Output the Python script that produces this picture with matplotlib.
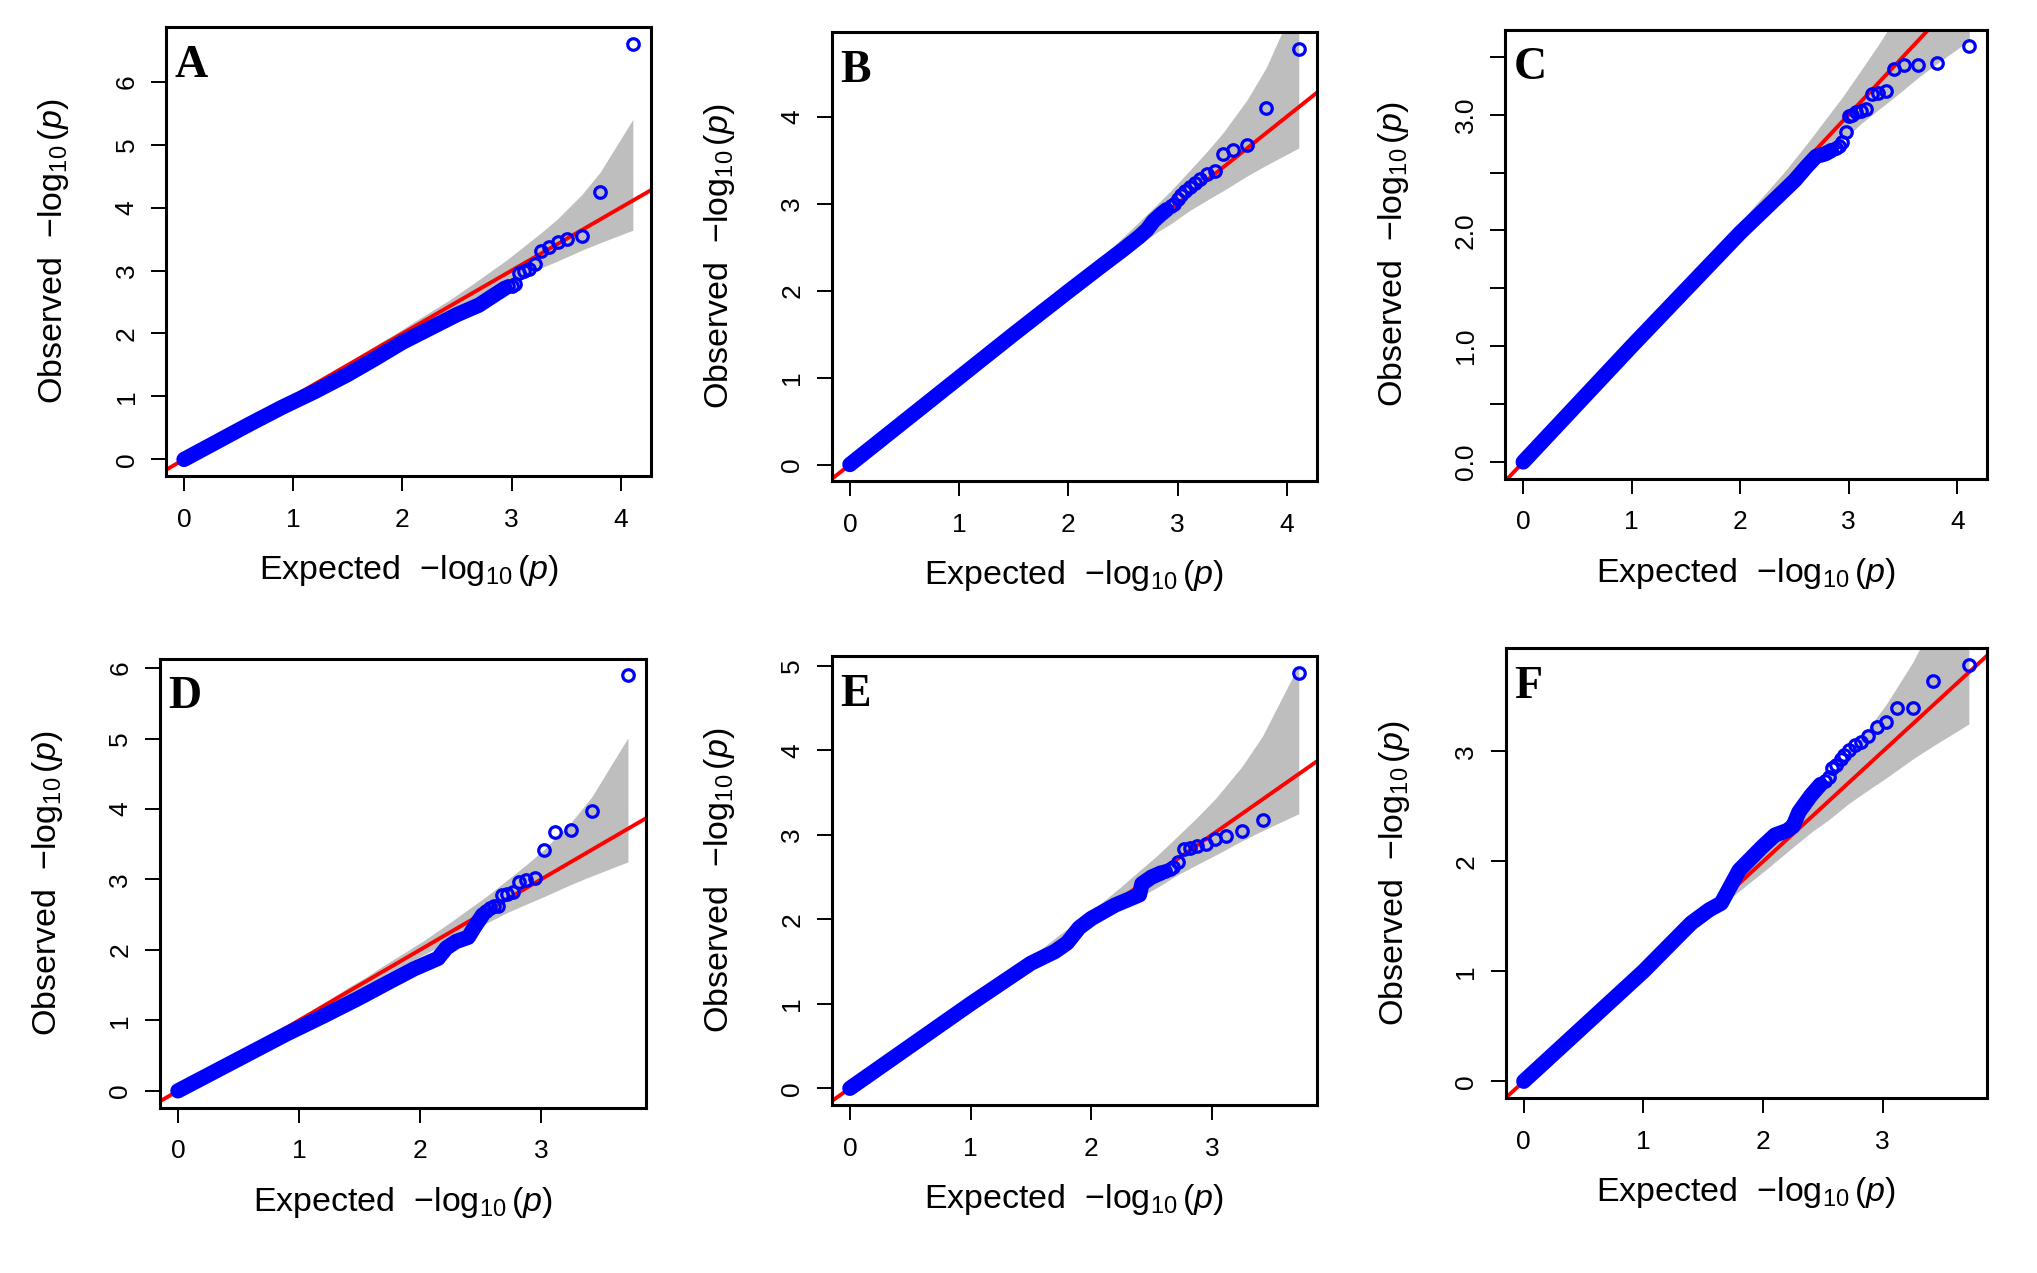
import matplotlib.pyplot as plt
import numpy as np

plt.rcParams['font.family'] = 'Liberation Sans'
plt.rcParams['mathtext.fontset'] = 'custom'
plt.rcParams['mathtext.rm'] = 'Liberation Sans'
plt.rcParams['mathtext.it'] = 'Liberation Sans:italic'

# expected -log10(p) of the top-ranked points (top row ~13000 tests, bottom row ~5300)
exp_tail_top = [4.11, 3.81, 3.64, 3.51, 3.42, 3.34, 3.27, 3.21, 3.16, 3.11, 3.07, 3.03, 3.00, 2.97, 2.94, 2.91, 2.88]
exp_tail_bottom = [3.72, 3.42, 3.25, 3.12, 3.03, 2.95, 2.88, 2.82, 2.77, 2.72, 2.68, 2.65, 2.61, 2.58, 2.55, 2.52]

# confidence band (grey)
band_top_x = [1.11, 1.42, 1.81, 1.94, 2.11, 2.27, 2.42, 2.64, 2.81, 2.94, 3.11, 3.27, 3.42, 3.64, 3.81, 4.11]
band_top_hi = [1.14, 1.45, 1.87, 2.00, 2.19, 2.36, 2.52, 2.78, 2.99, 3.15, 3.38, 3.60, 3.82, 4.20, 4.56, 5.40]
band_top_lo = [1.09, 1.38, 1.76, 1.88, 2.05, 2.19, 2.32, 2.52, 2.67, 2.77, 2.92, 3.04, 3.15, 3.32, 3.44, 3.64]
band_bot_x = [0.72, 1.03, 1.42, 1.55, 1.72, 1.88, 2.03, 2.25, 2.42, 2.55, 2.72, 2.88, 3.03, 3.25, 3.42, 3.72]
band_bot_hi = [0.75, 1.06, 1.48, 1.61, 1.80, 1.97, 2.13, 2.39, 2.60, 2.76, 2.99, 3.21, 3.43, 3.81, 4.17, 5.01]
band_bot_lo = [0.70, 0.99, 1.37, 1.49, 1.66, 1.80, 1.93, 2.13, 2.28, 2.38, 2.53, 2.65, 2.76, 2.93, 3.05, 3.25]

# observed -log10(p): dense part (traced) and the separate top points
a_dense_x = [0, 0.3, 0.6, 0.9, 1.2, 1.5, 1.75, 2.0, 2.25, 2.5, 2.7, 2.85, 2.94]
a_dense_y = [0, 0.28, 0.56, 0.83, 1.08, 1.35, 1.60, 1.86, 2.08, 2.30, 2.45, 2.62, 2.72]
a_tail = [6.60, 4.24, 3.55, 3.50, 3.45, 3.37, 3.31, 3.10, 3.02, 2.99, 2.96, 2.78, 2.76, 2.75]

b_dense_x = [0, 0.5, 1.0, 1.5, 2.0, 2.3, 2.5, 2.65, 2.72, 2.78, 2.85, 2.90]
b_dense_y = [0, 0.5, 1.0, 1.5, 1.99, 2.28, 2.47, 2.62, 2.70, 2.80, 2.88, 2.93]
b_tail = [4.78, 4.10, 3.67, 3.62, 3.57, 3.37, 3.34, 3.28, 3.24, 3.19, 3.14, 3.10, 3.05, 3.00, 2.97]

c_dense_x = [0, 0.5, 1.0, 1.5, 2.0, 2.3, 2.5, 2.62, 2.7, 2.78, 2.84]
c_dense_y = [0, 0.5, 1.0, 1.49, 1.98, 2.25, 2.43, 2.56, 2.64, 2.66, 2.69]
c_tail = [3.59, 3.45, 3.43, 3.43, 3.39, 3.20, 3.19, 3.18, 3.05, 3.03, 3.02, 3.00, 2.99, 2.85, 2.76, 2.73, 2.71]

d_dense_x = [0, 0.3, 0.6, 0.9, 1.2, 1.5, 1.75, 1.95, 2.15, 2.22, 2.3, 2.4, 2.45, 2.52]
d_dense_y = [0, 0.27, 0.54, 0.81, 1.06, 1.32, 1.55, 1.73, 1.88, 2.03, 2.12, 2.18, 2.32, 2.50]
d_tail = [5.90, 3.97, 3.70, 3.68, 3.42, 3.02, 2.99, 2.96, 2.82, 2.80, 2.78, 2.63, 2.62, 2.60, 2.55]

e_dense_x = [0, 0.5, 1.0, 1.5, 1.7, 1.8, 1.9, 2.0, 2.2, 2.4, 2.42, 2.5, 2.58]
e_dense_y = [0, 0.5, 1.0, 1.48, 1.62, 1.72, 1.90, 2.01, 2.17, 2.29, 2.42, 2.50, 2.55]
e_tail = [4.92, 3.17, 3.04, 2.99, 2.95, 2.89, 2.87, 2.85, 2.83, 2.68, 2.62, 2.59, 2.57]

f_dense_x = [0, 0.5, 1.0, 1.2, 1.4, 1.55, 1.65, 1.72, 1.8, 1.9, 2.0, 2.1, 2.2, 2.25, 2.3, 2.4, 2.48]
f_dense_y = [0, 0.5, 1.0, 1.22, 1.44, 1.56, 1.62, 1.76, 1.92, 2.03, 2.14, 2.24, 2.28, 2.32, 2.45, 2.60, 2.70]
f_tail = [3.79, 3.64, 3.40, 3.40, 3.27, 3.22, 3.14, 3.09, 3.06, 3.01, 2.97, 2.93, 2.88, 2.85, 2.77, 2.73]

letters = ['A', 'B', 'C', 'D', 'E', 'F']
x_ticks_top = [0, 1, 2, 3, 4]
x_ticks_bottom = [0, 1, 2, 3]
y_ticks_a = [0, 1, 2, 3, 4, 5, 6]
y_ticks_b = [0, 1, 2, 3, 4]
y_ticks_c = [0, 0.5, 1.0, 1.5, 2.0, 2.5, 3.0, 3.5]
y_labels_c = ['0.0', '', '1.0', '', '2.0', '', '3.0', '']
y_ticks_d = [0, 1, 2, 3, 4, 5, 6]
y_ticks_e = [0, 1, 2, 3, 4, 5]
y_ticks_f = [0, 1, 2, 3]

panels = [
    (a_dense_x, a_dense_y, exp_tail_top, a_tail, 'top', x_ticks_top, y_ticks_a, None),
    (b_dense_x, b_dense_y, exp_tail_top, b_tail, 'top', x_ticks_top, y_ticks_b, None),
    (c_dense_x, c_dense_y, exp_tail_top, c_tail, 'top', x_ticks_top, y_ticks_c, y_labels_c),
    (d_dense_x, d_dense_y, exp_tail_bottom, d_tail, 'bot', x_ticks_bottom, y_ticks_d, None),
    (e_dense_x, e_dense_y, exp_tail_bottom, e_tail, 'bot', x_ticks_bottom, y_ticks_e, None),
    (f_dense_x, f_dense_y, exp_tail_bottom, f_tail, 'bot', x_ticks_bottom, y_ticks_f, None),
]

# axes boxes [left, bottom, width, height] in figure fraction
positions = [
    [0.0815, 0.626, 0.2380, 0.3527],
    [0.4084, 0.622, 0.2380, 0.3527],
    [0.7390, 0.624, 0.2365, 0.3527],
    [0.0785, 0.130, 0.2386, 0.3527],
    [0.4084, 0.132, 0.2380, 0.3527],
    [0.7393, 0.1375, 0.2360, 0.3535],
]

fig = plt.figure(figsize=(20.37, 12.73), dpi=100)

for i, (dx, dy, tx_all, ty, row, xt, yt, ylab) in enumerate(panels):
    ax = fig.add_axes(positions[i])
    tx = tx_all[:len(ty)]

    if row == 'top':
        ax.fill_between(band_top_x, band_top_lo, band_top_hi, color='#bebebe', lw=0, zorder=1)
    else:
        ax.fill_between(band_bot_x, band_bot_lo, band_bot_hi, color='#bebebe', lw=0, zorder=1)

    ax.axline((0, 0), slope=1, color='red', lw=2.8, zorder=2)
    ax.plot(dx, dy, color='blue', lw=11, solid_capstyle='round', solid_joinstyle='round', zorder=3)
    ax.plot(tx, ty, 'o', mfc='none', mec='blue', ms=8.3, mew=2.3, zorder=4)

    # R style 4% padding around the data range
    xs = list(dx) + list(tx)
    ys = list(dy) + list(ty)
    xr = max(xs) - min(xs)
    yr = max(ys) - min(ys)
    ax.set_xlim(min(xs) - 0.04 * xr, max(xs) + 0.04 * xr)
    ax.set_ylim(min(ys) - 0.04 * yr, max(ys) + 0.04 * yr)

    ax.set_xticks(xt)
    if ylab is None:
        ax.set_yticks(yt, [str(v) for v in yt], rotation=90, va='center')
    else:
        ax.set_yticks(yt, ylab, rotation=90, va='center')

    ax.tick_params(axis='both', length=10.8, width=1.4, labelsize=19, direction='out')
    ax.tick_params(axis='x', pad=12)
    ax.tick_params(axis='y', pad=9)
    for sp in ax.spines.values():
        sp.set_linewidth(2.2)

    ax.set_xlabel(r'Expected  $-\log_{10}(\mathit{p})$', fontsize=24.5)
    ax.set_ylabel(r'Observed  $-\log_{10}(\mathit{p})$', fontsize=24.5)
    ax.xaxis.set_label_coords(0.5, -0.172)
    ax.yaxis.set_label_coords(-0.195, 0.5)

    ax.text(0.018, 0.889, letters[i], transform=ax.transAxes, fontsize=33,
            fontweight='bold', family='Liberation Serif', ha='left', va='baseline', zorder=5)

fig.savefig('out.png', dpi=100)
